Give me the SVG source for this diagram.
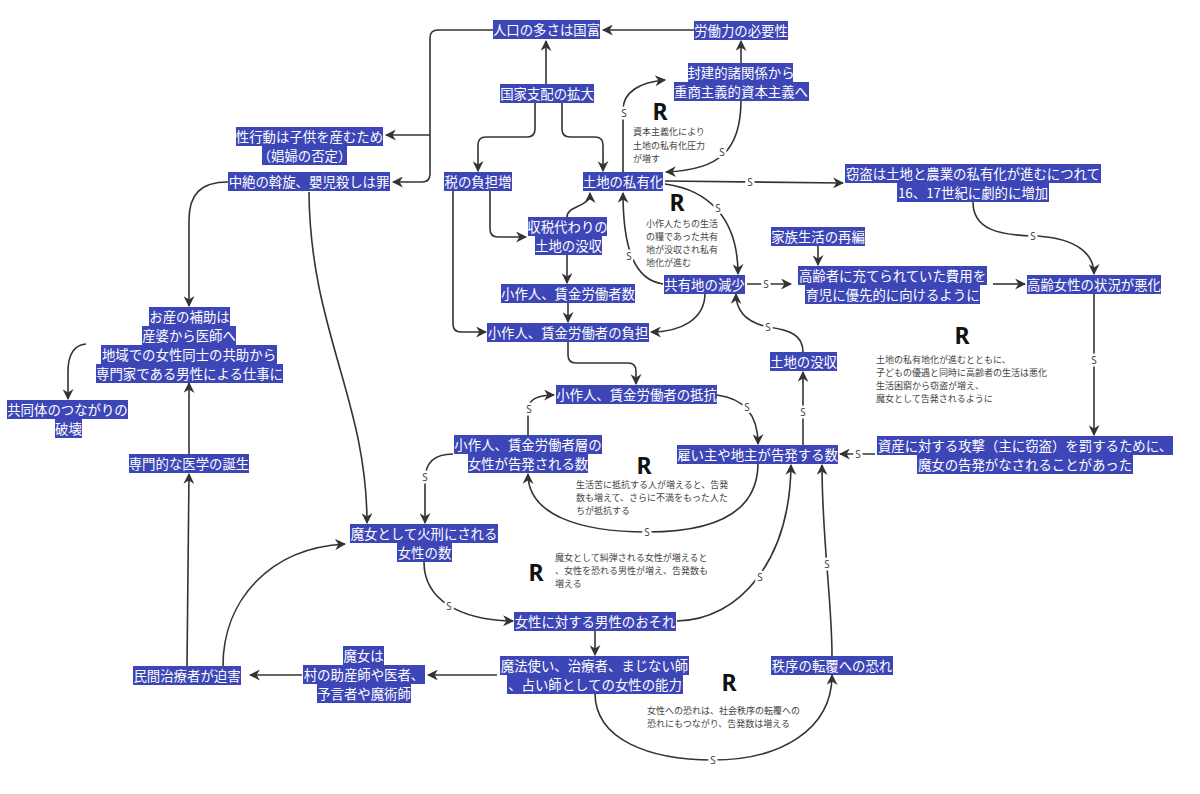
<svg xmlns="http://www.w3.org/2000/svg" width="1200" height="794" viewBox="0 0 1200 794">
<defs>
<style>
.b{fill:#3d46b6}
.t{fill:#fff;font-family:"Noto Sans CJK JP","Noto Sans",sans-serif;font-size:13.4px;text-anchor:middle}
.n{fill:#444;font-family:"Noto Sans CJK JP","Noto Sans",sans-serif;font-size:9px}
.r{fill:#111;font-family:"Noto Sans","DejaVu Sans",sans-serif;font-size:23px;font-weight:bold;text-anchor:middle}
.s{fill:#444;font-family:"Noto Sans","DejaVu Sans",sans-serif;font-size:10px;text-anchor:middle;dominant-baseline:central;stroke:#fff;stroke-width:5px;paint-order:stroke}
.e{fill:none;stroke:#333;stroke-width:1.6;marker-end:url(#a)}
</style>
<marker id="a" viewBox="0 0 10 10" refX="9" refY="5" markerWidth="11" markerHeight="11" markerUnits="userSpaceOnUse" orient="auto">
<path d="M0,0 L10,5 L0,10 L3,5 z" fill="#333"/>
</marker>
</defs>
<rect width="1200" height="794" fill="#fff"/>

<g id="connectors">
<path class="e" d="M694,30 L603,30"/>
<path class="e" d="M741,63 L741,41"/>
<path class="e" d="M546,84 L546,41"/>
<path class="e" d="M493,30 L438,30 Q430,30 430,38 L430,174 Q430,182 422,182 L393,182"/>
<path class="e" d="M430,135 L386,135"/>
<path class="e" d="M535,103 L535,129 Q535,137 527,137 L486,137 Q478,137 478,145 L478,171"/>
<path class="e" d="M562,103 L562,129 Q562,137 570,137 L595,137 Q603,137 603,145 L603,171"/>
<path class="e" d="M490,191 L490,229 Q490,237 498,237 L526,237"/>
<path class="e" d="M453,191 L453,324 Q453,332 461,332 L486,332"/>
<path class="e" d="M567,217 C567,205 590,208 590,193"/>
<path class="e" d="M567,255 L567,283"/>
<path class="e" d="M568,302 L568,322"/>
<path class="e" d="M623,172 L623,110 C623,92 640,82 665,80"/>
<path class="e" d="M741,100 C741,150 720,170 666,172"/>
<path class="e" d="M665,181 L843,183"/>
<path class="e" d="M665,184 C710,190 738,220 738,274"/>
<path class="e" d="M663,284 C635,280 623,250 623,193"/>
<path class="e" d="M747,284 L791,284"/>
<path class="e" d="M818,245 L818,265"/>
<path class="e" d="M993,284 L1025,284"/>
<path class="e" d="M973,202 C973,230 1000,235 1033,236 C1070,237 1094,250 1094,274"/>
<path class="e" d="M1094,294 L1094,435"/>
<path class="e" d="M875,454 L840,454"/>
<path class="e" d="M705,293 C705,320 680,332 651,332"/>
<path class="e" d="M803,352 C803,335 790,330 768,327 C745,322 736,310 736,294"/>
<path class="e" d="M803,445 L803,372"/>
<path class="e" d="M568,342 L568,355 Q568,363 576,363 L628,363 Q636,363 636,371 L636,384"/>
<path class="e" d="M717,395 C740,398 758,410 758,444"/>
<path class="e" d="M758,463 C758,520 700,532 647,532 C580,532 528,515 528,474"/>
<path class="e" d="M528,435 L528,410 Q528,395 554,395"/>
<path class="e" d="M453,454 C435,454 425,462 425,480 L425,523"/>
<path class="e" d="M228,182 C200,182 189,195 189,220 L189,306"/>
<path class="e" d="M309,192 C310,330 367,400 367,523"/>
<path class="e" d="M86,344 C74,345 68,355 68,372 L68,399"/>
<path class="e" d="M189,454 L189,383"/>
<path class="e" d="M187,666 L189,474"/>
<path class="e" d="M223,666 C223,600 270,548 345,544"/>
<path class="e" d="M302,675 L250,675"/>
<path class="e" d="M497,675 L428,675"/>
<path class="e" d="M595,631 L595,655"/>
<path class="e" d="M424,562 C424,600 460,620 513,621"/>
<path class="e" d="M677,621 C740,620 790,560 791,465"/>
<path class="e" d="M595,693 C595,740 650,760 713,760 C780,760 832,730 832,675"/>
<path class="e" d="M832,656 C832,600 822,540 822,465"/>
<text class="s" x="624" y="113">S</text>
<text class="s" x="722" y="152">S</text>
<text class="s" x="750" y="182">S</text>
<text class="s" x="718" y="208">S</text>
<text class="s" x="629" y="256">S</text>
<text class="s" x="766" y="284">S</text>
<text class="s" x="1033" y="236">S</text>
<text class="s" x="1094" y="360">S</text>
<text class="s" x="858" y="454">S</text>
<text class="s" x="768" y="327">S</text>
<text class="s" x="803" y="412">S</text>
<text class="s" x="747" y="407">S</text>
<text class="s" x="647" y="532">S</text>
<text class="s" x="529" y="409">S</text>
<text class="s" x="425" y="477">S</text>
<text class="s" x="449" y="606">S</text>
<text class="s" x="760" y="577">S</text>
<text class="s" x="713" y="760">S</text>
<text class="s" x="827" y="564">S</text>
</g>

<g id="n1"><rect class="b" x="493" y="20" width="107" height="19"/><text class="t" x="546.5" y="34.6">人口の多さは国富</text></g>
<g id="n2"><rect class="b" x="694" y="21" width="94" height="19"/><text class="t" x="741" y="35.6">労働力の必要性</text></g>
<g id="n3"><rect class="b" x="688" y="63" width="105" height="19"/><rect class="b" x="674" y="82" width="135" height="19"/><text class="t" x="741" y="77.6">封建的諸関係から</text><text class="t" x="741" y="96.6">重商主義的資本主義へ</text></g>
<g id="n4"><rect class="b" x="500" y="84" width="94" height="19"/><text class="t" x="547" y="98.6">国家支配の拡大</text></g>
<g id="n5"><rect class="b" x="236" y="127" width="147" height="19"/><rect class="b" x="262" y="146" width="85" height="19"/><text class="t" x="309.5" y="141.6">性行動は子供を産むため</text><text class="t" x="304.5" y="160.6">（娼婦の否定）</text></g>
<g id="n6"><rect class="b" x="228" y="172" width="162" height="19"/><text class="t" x="309" y="186.6">中絶の斡旋、嬰児殺しは罪</text></g>
<g id="n7"><rect class="b" x="444" y="172" width="68" height="19"/><text class="t" x="478" y="186.6">税の負担増</text></g>
<g id="n8"><rect class="b" x="583" y="172" width="80" height="19"/><text class="t" x="623" y="186.6">土地の私有化</text></g>
<g id="n9"><rect class="b" x="845" y="164" width="256" height="19"/><rect class="b" x="897" y="183" width="152" height="19"/><text class="t" x="973" y="178.6">窃盗は土地と農業の私有化が進むにつれて</text><text class="t" x="973" y="197.6">16、17世紀に劇的に増加</text></g>
<g id="n10"><rect class="b" x="528" y="217" width="79" height="19"/><rect class="b" x="535" y="236" width="67" height="19"/><text class="t" x="567.5" y="231.6">収税代わりの</text><text class="t" x="568.5" y="250.6">土地の没収</text></g>
<g id="n11"><rect class="b" x="771" y="227" width="94" height="19"/><text class="t" x="818" y="241.6">家族生活の再編</text></g>
<g id="n12"><rect class="b" x="664" y="275" width="81" height="19"/><text class="t" x="704.5" y="289.6">共有地の減少</text></g>
<g id="n13"><rect class="b" x="798" y="266" width="189" height="19"/><rect class="b" x="805" y="285" width="175" height="19"/><text class="t" x="892.5" y="280.6">高齢者に充てられていた費用を</text><text class="t" x="892.5" y="299.6">育児に優先的に向けるように</text></g>
<g id="n14"><rect class="b" x="1027" y="275" width="134" height="19"/><text class="t" x="1094" y="289.6">高齢女性の状況が悪化</text></g>
<g id="n15"><rect class="b" x="501" y="284" width="134" height="19"/><text class="t" x="568" y="298.6">小作人、賃金労働者数</text></g>
<g id="n16"><rect class="b" x="487" y="323" width="162" height="19"/><text class="t" x="568" y="337.6">小作人、賃金労働者の負担</text></g>
<g id="n17"><rect class="b" x="149" y="307" width="81" height="19"/><rect class="b" x="142" y="326" width="94" height="19"/><rect class="b" x="101" y="345" width="176" height="19"/><rect class="b" x="96" y="364" width="187" height="19"/><text class="t" x="189.5" y="321.6">お産の補助は</text><text class="t" x="189" y="340.6">産婆から医師へ</text><text class="t" x="189" y="359.6">地域での女性同士の共助から</text><text class="t" x="189.5" y="378.6">専門家である男性による仕事に</text></g>
<g id="n18"><rect class="b" x="770" y="352" width="67" height="19"/><text class="t" x="803.5" y="366.6">土地の没収</text></g>
<g id="n19"><rect class="b" x="7" y="400" width="121" height="19"/><rect class="b" x="55" y="419" width="27" height="19"/><text class="t" x="67.5" y="414.6">共同体のつながりの</text><text class="t" x="68.5" y="433.6">破壊</text></g>
<g id="n20"><rect class="b" x="556" y="385" width="161" height="19"/><text class="t" x="636.5" y="399.6">小作人、賃金労働者の抵抗</text></g>
<g id="n21"><rect class="b" x="129" y="454" width="120" height="19"/><text class="t" x="189" y="468.6">専門的な医学の誕生</text></g>
<g id="n22"><rect class="b" x="454" y="435" width="148" height="19"/><rect class="b" x="468" y="454" width="120" height="19"/><text class="t" x="528" y="449.6">小作人、賃金労働者層の</text><text class="t" x="528" y="468.6">女性が告発される数</text></g>
<g id="n23"><rect class="b" x="677" y="445" width="161" height="19"/><text class="t" x="757.5" y="459.6">雇い主や地主が告発する数</text></g>
<g id="n24"><rect class="b" x="877" y="436" width="296" height="19"/><rect class="b" x="917" y="455" width="216" height="19"/><text class="t" x="1025" y="450.6">資産に対する攻撃（主に窃盗）を罰するために、</text><text class="t" x="1025" y="469.6">魔女の告発がなされることがあった</text></g>
<g id="n25"><rect class="b" x="350" y="524" width="148" height="19"/><rect class="b" x="397" y="543" width="55" height="19"/><text class="t" x="424" y="538.6">魔女として火刑にされる</text><text class="t" x="424.5" y="557.6">女性の数</text></g>
<g id="n26"><rect class="b" x="514" y="612" width="162" height="19"/><text class="t" x="595" y="626.6">女性に対する男性のおそれ</text></g>
<g id="n27"><rect class="b" x="500" y="656" width="189" height="19"/><rect class="b" x="507" y="675" width="176" height="19"/><text class="t" x="594.5" y="670.6">魔法使い、治療者、まじない師</text><text class="t" x="595" y="689.6">、占い師としての女性の能力</text></g>
<g id="n28"><rect class="b" x="343" y="646" width="41" height="19"/><rect class="b" x="303" y="665" width="122" height="19"/><rect class="b" x="317" y="684" width="94" height="19"/><text class="t" x="363.5" y="660.6">魔女は</text><text class="t" x="364" y="679.6">村の助産師や医者、</text><text class="t" x="364" y="698.6">予言者や魔術師</text></g>
<g id="n29"><rect class="b" x="133" y="666" width="108" height="19"/><text class="t" x="187" y="680.6">民間治療者が迫害</text></g>
<g id="n30"><rect class="b" x="771" y="656" width="122" height="19"/><text class="t" x="832" y="670.6">秩序の転覆への恐れ</text></g>

<g id="loop1"><text class="r" x="660" y="120">R</text><text class="n" x="633" y="135.4">資本主義化により</text><text class="n" x="633" y="148.9">土地の私有化圧力</text><text class="n" x="633" y="162.4">が増す</text></g>
<g id="loop2"><text class="r" x="677" y="211">R</text><text class="n" x="646" y="227">小作人たちの生活</text><text class="n" x="646" y="240">の糧であった共有</text><text class="n" x="646" y="253">地が没収され私有</text><text class="n" x="646" y="266">地化が進む</text></g>
<g id="loop3"><text class="r" x="962" y="344">R</text><text class="n" x="876" y="363.4">土地の私有地化が進むとともに、</text><text class="n" x="876" y="376.4">子どもの優遇と同時に高齢者の生活は悪化</text><text class="n" x="876" y="389.4">生活困窮から窃盗が増え、</text><text class="n" x="876" y="402.4">魔女として告発されるように</text></g>
<g id="loop4"><text class="r" x="644" y="474">R</text><text class="n" x="576" y="488.4">生活苦に抵抗する人が増えると、告発</text><text class="n" x="576" y="501.4">数も増えて、さらに不満をもった人た</text><text class="n" x="576" y="514.4">ちが抵抗する</text></g>
<g id="loop5"><text class="r" x="536" y="581">R</text><text class="n" x="555" y="561.4">魔女として糾弾される女性が増えると</text><text class="n" x="555" y="574.4">、女性を恐れる男性が増え、告発数も</text><text class="n" x="555" y="587.4">増える</text></g>
<g id="loop6"><text class="r" x="729" y="691">R</text><text class="n" x="647" y="714.4">女性への恐れは、社会秩序の転覆への</text><text class="n" x="647" y="727.4">恐れにもつながり、告発数は増える</text></g>
</svg>
